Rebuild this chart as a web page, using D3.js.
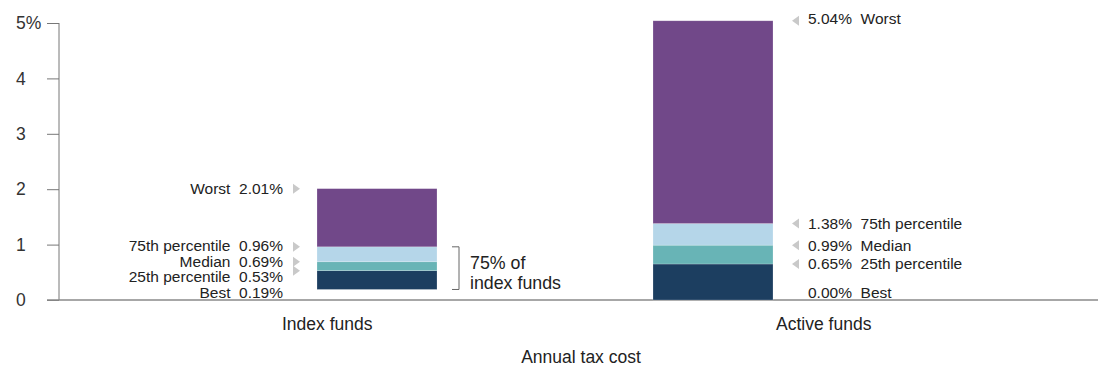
<!DOCTYPE html>
<html>
<head>
<meta charset="utf-8">
<script src="https://cdn.jsdelivr.net/npm/d3@7/dist/d3.min.js"></script>
<style>
  html, body { margin: 0; padding: 0; background: #fff; }
  svg { display: block; }
  .lbl { font-family: "Liberation Sans", Arial, sans-serif; font-size: 15.5px; fill: #222; }
  .cat { font-family: "Liberation Sans", Arial, sans-serif; font-size: 17.5px; fill: #222; }
</style>
</head>
<body>
<svg id="chart" width="1099" height="367"></svg>
<script>
// Fund groups along the horizontal axis
const categories = ["Index funds", "Active funds"];

// Annual tax cost distribution (%) for each group
const bestValues   = [0.19, 0.00];
const p25Values    = [0.53, 0.65];
const medianValues = [0.69, 0.99];
const p75Values    = [0.96, 1.38];
const worstValues  = [2.01, 5.04];

const statNames = ["Best", "25th percentile", "Median", "75th percentile", "Worst"];
const segmentColors = ["#1c3e60", "#68b4b6", "#b5d6e9", "#714889"];

const yTicks = [0, 1, 2, 3, 4, 5];
const xTitle = "Annual tax cost";
const bracketText = ["75% of", "index funds"];

const svg = d3.select("#chart");

const y = d3.scaleLinear().domain([0, 5]).range([300, 23]);

// bar positions
const xBar = d3.scaleBand().domain(categories).range([317, 773])
  .paddingInner(216 / 336).paddingOuter(0);
// category label positions
const xLab = d3.scaleBand().domain(categories).range([79, 1072]);

// y axis: labels left-aligned in the margin
const yAxis = d3.axisLeft(y).tickValues(yTicks).tickSize(12).tickPadding(5)
  .tickFormat(d => d === 5 ? "5%" : d3.format("d")(d));
const gy = svg.append("g").attr("transform", "translate(59,0)").call(yAxis);
gy.select(".domain").attr("stroke", "#777").attr("d", `M0,${y(5)}V${y(0)}`);
gy.selectAll(".tick line").attr("stroke", "#777");
gy.selectAll(".tick text")
  .attr("x", -43)
  .attr("text-anchor", "start")
  .attr("font-family", "Liberation Sans, Arial, sans-serif")
  .attr("font-size", 17.5).attr("fill", "#333");

// baseline
svg.append("line").attr("x1", 47).attr("x2", 1098)
  .attr("y1", y(0)).attr("y2", y(0))
  .attr("stroke", "#8a8a8a").attr("stroke-width", 1.5);

// stacked segments per group
const stats = categories.map((c, i) => ({
  cat: c,
  vals: [bestValues[i], p25Values[i], medianValues[i], p75Values[i], worstValues[i]]
}));

stats.forEach(s => {
  const segs = d3.range(4).map(k => ({ lo: s.vals[k], hi: s.vals[k + 1], color: segmentColors[k] }));
  svg.append("g").selectAll("rect").data(segs).join("rect")
    .attr("x", xBar(s.cat))
    .attr("width", xBar.bandwidth())
    .attr("y", d => y(d.hi))
    .attr("height", d => y(d.lo) - y(d.hi))
    .attr("fill", d => d.color)
    .attr("stroke", "rgba(255,255,255,0.35)")
    .attr("stroke-width", 0.6);
});

const arrowFill = "#c9c9c9";
const fmt = d3.format(".2f");

// Index funds labels (left side, arrows pointing right)
{
  const s = stats[0];
  const textRight = xBar(s.cat) - 34;
  const arrowTip = xBar(s.cat) - 17;
  const labelY = [293, 277, 262, 246, y(s.vals[4])];
  const g = svg.append("g");
  s.vals.forEach((v, k) => {
    g.append("text").attr("class", "lbl")
      .attr("x", textRight).attr("y", labelY[k]).attr("dy", "0.35em")
      .attr("text-anchor", "end")
      .attr("xml:space", "preserve")
      .text(`${statNames[k]}  ${fmt(v)}%`);
    if (k > 0) {
      const ay = y(v);
      g.append("path").attr("fill", arrowFill)
        .attr("d", `M${arrowTip},${ay}L${arrowTip - 7},${ay - 5}L${arrowTip - 7},${ay + 5}Z`);
    }
  });

  // bracket spanning best to 75th percentile
  const bx = xBar(s.cat) + xBar.bandwidth() + 22;
  g.append("path").attr("fill", "none").attr("stroke", "#666").attr("stroke-width", 1)
    .attr("d", `M${bx - 7},${y(s.vals[3])}H${bx}V${y(s.vals[0])}H${bx - 7}`);
  g.selectAll("text.br").data(bracketText).join("text")
    .attr("class", "lbl br")
    .attr("x", bx + 11)
    .attr("y", (d, i) => 263 + i * 19.5)
    .attr("dy", "0.35em")
    .style("font-size", "17.8px")
    .text(d => d);
}

// Active funds labels (right side, arrows pointing left)
{
  const s = stats[1];
  const right = xBar(s.cat) + xBar.bandwidth();
  const arrowTip = right + 19;
  const textLeft = right + 35;
  const labelY = [293, y(s.vals[1]), y(s.vals[2]), y(s.vals[3]), 19];
  const g = svg.append("g");
  s.vals.forEach((v, k) => {
    g.append("text").attr("class", "lbl")
      .attr("x", textLeft).attr("y", labelY[k]).attr("dy", "0.35em")
      .attr("xml:space", "preserve")
      .text(`${fmt(v)}%  ${statNames[k]}`);
    if (k > 0) {
      const ay = y(v);
      g.append("path").attr("fill", arrowFill)
        .attr("d", `M${arrowTip},${ay}L${arrowTip + 7},${ay - 5}L${arrowTip + 7},${ay + 5}Z`);
    }
  });
}

// category labels
svg.append("g").selectAll("text").data(categories).join("text")
  .attr("class", "cat")
  .attr("x", d => xLab(d) + xLab.bandwidth() / 2)
  .attr("y", 330)
  .attr("text-anchor", "middle")
  .text(d => d);

// axis title
svg.append("text").attr("class", "cat")
  .attr("x", 581).attr("y", 363)
  .attr("text-anchor", "middle")
  .text(xTitle);
</script>
</body>
</html>
